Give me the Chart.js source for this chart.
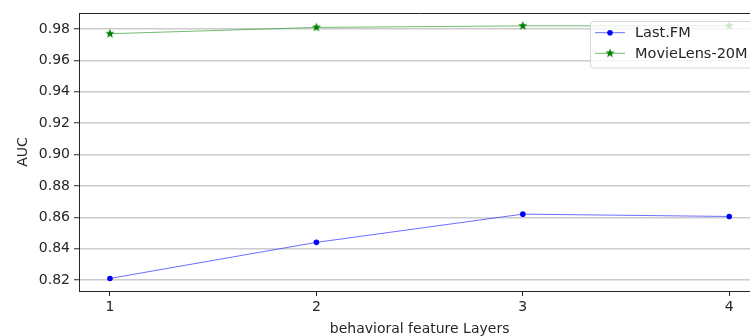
<!DOCTYPE html>
<html><head><meta charset="utf-8">
<script src="https://cdn.jsdelivr.net/npm/chart.js@4/dist/chart.umd.min.js"></script>
<style>
html,body{margin:0;padding:0;overflow:hidden;background:#fff;width:750px;height:336px}
#wrap{width:766px;height:336px;position:relative}
</style></head>
<body><div id="wrap"><canvas id="c" width="766" height="336"></canvas></div>
<script>
// ---- data ----
const layers = [1, 2, 3, 4];
const lastFM = [0.821, 0.844, 0.862, 0.8605];
const movieLens = [0.977, 0.981, 0.982, 0.982];
const seriesNames = ['Last.FM', 'MovieLens-20M'];
const xTicks = [1, 2, 3, 4];
const yTicks = [0.82, 0.84, 0.86, 0.88, 0.90, 0.92, 0.94, 0.96, 0.98];
const xTitle = 'behavioral feature Layers';
const yTitle = 'AUC';

const FONT = 'DejaVu Sans';
const TXT = '#262626';

function makeStar(color, R) {
  const s = Math.ceil(R * 2 + 2);
  const cv = document.createElement('canvas');
  cv.width = s; cv.height = s;
  const c = cv.getContext('2d');
  const cx = s / 2, cy = s / 2, r = R * 0.42;
  c.beginPath();
  for (let i = 0; i < 10; i++) {
    const a = -Math.PI / 2 + i * Math.PI / 5;
    const rr = i % 2 === 0 ? R : r;
    const px = cx + rr * Math.cos(a), py = cy + rr * Math.sin(a);
    if (i === 0) c.moveTo(px, py); else c.lineTo(px, py);
  }
  c.closePath();
  c.fillStyle = color; c.fill();
  return cv;
}
const starImg = makeStar('#008000', 4.8);

const framePlugin = {
  id: 'frame',
  beforeDatasetsDraw(chart) {
    const {ctx, chartArea: a} = chart;
    ctx.save();
    ctx.strokeStyle = TXT; ctx.lineWidth = 1;
    ctx.beginPath();
    ctx.moveTo(a.left, Math.round(a.top) + 0.5);
    ctx.lineTo(a.right, Math.round(a.top) + 0.5);
    ctx.moveTo(Math.round(a.right) - 0.5, a.top);
    ctx.lineTo(Math.round(a.right) - 0.5, a.bottom);
    ctx.stroke();
    ctx.restore();
  }
};

const legendPlugin = {
  id: 'mplLegend',
  afterDatasetsDraw(chart) {
    const {ctx} = chart;
    const x0 = 590.5, y0 = 21.5, w = 168, h = 46.5;
    ctx.save();
    ctx.beginPath();
    if (ctx.roundRect) ctx.roundRect(x0, y0, w, h, 3); else ctx.rect(x0, y0, w, h);
    ctx.fillStyle = 'rgba(255,255,255,0.8)';
    ctx.fill();
    ctx.strokeStyle = 'rgba(204,204,204,0.8)';
    ctx.lineWidth = 1;
    ctx.stroke();
    ctx.font = '14.5px "' + FONT + '"';
    ctx.textBaseline = 'middle';
    chart.data.datasets.forEach((ds, i) => {
      const yy = 32.7 + i * 20.6;
      ctx.strokeStyle = ds.borderColor;
      ctx.lineWidth = 1;
      ctx.beginPath(); ctx.moveTo(595, yy); ctx.lineTo(625, yy); ctx.stroke();
      if (ds.pointStyle instanceof HTMLCanvasElement) {
        const im = ds.pointStyle;
        ctx.drawImage(im, 610 - im.width / 2, yy - im.height / 2);
      } else {
        ctx.fillStyle = ds.pointBackgroundColor;
        ctx.beginPath(); ctx.arc(610, yy, ds.pointRadius, 0, Math.PI * 2); ctx.fill();
      }
      ctx.fillStyle = TXT;
      ctx.fillText(ds.label, 635, yy + 0.5);
    });
    ctx.restore();
  }
};

new Chart(document.getElementById('c'), {
  type: 'line',
  data: {
    datasets: [
      {
        label: seriesNames[0],
        data: layers.map((x, i) => ({x, y: lastFM[i]})),
        borderColor: 'rgba(60,60,255,0.75)',
        borderWidth: 1,
        pointStyle: 'circle',
        pointRadius: 2.8,
        pointBackgroundColor: '#0000ff',
        pointBorderColor: '#0000ff',
        pointBorderWidth: 0,
        tension: 0
      },
      {
        label: seriesNames[1],
        data: layers.map((x, i) => ({x, y: movieLens[i]})),
        borderColor: 'rgba(40,150,40,0.65)',
        borderWidth: 1,
        pointStyle: starImg,
        pointRadius: 4.8,
        pointBackgroundColor: '#008000',
        pointBorderColor: '#008000',
        tension: 0
      }
    ]
  },
  options: {
    responsive: false,
    animation: false,
    devicePixelRatio: 1,
    events: [],
    layout: {padding: {top: 13, right: 2, left: 0, bottom: 0}},
    plugins: {legend: {display: false}, tooltip: {enabled: false}},
    scales: {
      x: {
        type: 'linear', min: 0.85, max: 4.15,
        afterBuildTicks: s => { s.ticks = xTicks.map(v => ({value: v})); },
        afterFit: s => { s.height = 45; },
        ticks: {font: {family: FONT, size: 14}, color: TXT, padding: 3,
                maxRotation: 0, callback: v => String(v)},
        grid: {drawOnChartArea: false, drawTicks: true, tickLength: 5, tickColor: TXT, tickWidth: 1},
        border: {display: true, color: TXT, width: 1},
        title: {display: true, text: xTitle, font: {family: FONT, size: 14}, color: TXT,
                padding: {top: 0, bottom: -2}}
      },
      y: {
        type: 'linear', min: 0.813, max: 0.9902,
        afterBuildTicks: s => { s.ticks = yTicks.map(v => ({value: v})); },
        afterFit: s => { s.width = 79; },
        ticks: {font: {family: FONT, size: 14}, color: TXT, padding: 4,
                callback: v => Number(v).toFixed(2)},
        grid: {color: '#cccccc', lineWidth: 1.5, drawTicks: true, tickLength: 5, tickColor: TXT, tickWidth: 1},
        border: {display: true, color: TXT, width: 1},
        title: {display: true, text: yTitle, font: {family: FONT, size: 14}, color: TXT,
                padding: {top: 15, bottom: 0}}
      }
    }
  },
  plugins: [framePlugin, legendPlugin]
});
</script>
</body></html>
